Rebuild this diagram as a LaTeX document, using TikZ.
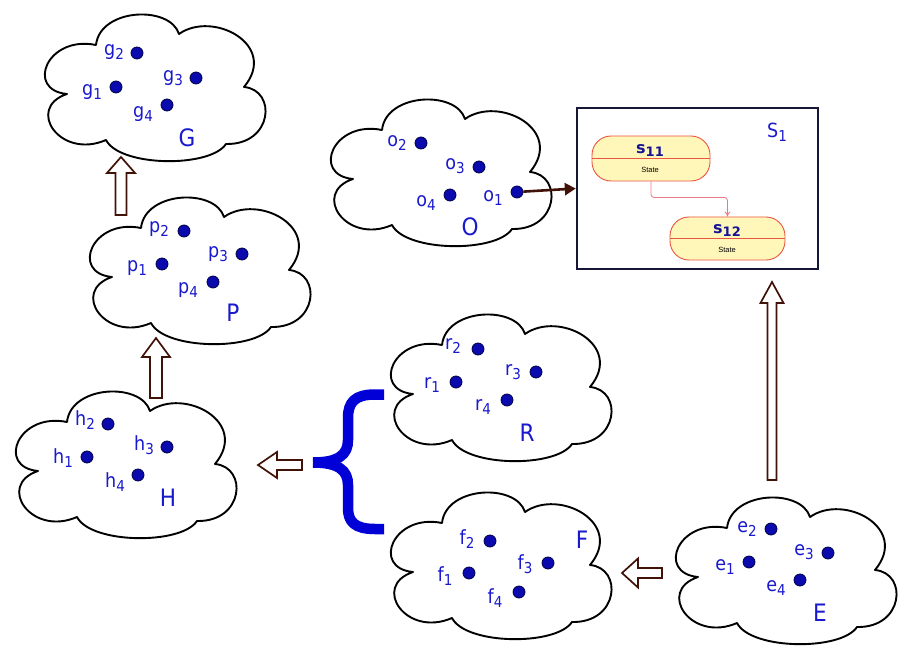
\documentclass[tikz,border=0pt]{standalone}
\usepackage{fontspec}
\setmainfont{DejaVu Sans Condensed}
\newfontfamily\vera{DejaVu Sans}
\newfontfamily\smallsans{Liberation Sans}
\usetikzlibrary{arrows.meta}
\definecolor{txtblue}{RGB}{25,25,205}
\definecolor{dotblue}{RGB}{10,10,175}
\definecolor{dotedge}{RGB}{0,0,70}
\definecolor{arrbrown}{RGB}{65,18,8}
\definecolor{boxnavy}{RGB}{22,22,55}
\definecolor{stfill}{RGB}{255,247,185}
\definecolor{stdraw}{RGB}{235,85,65}
\definecolor{transcol}{RGB}{235,120,135}
\definecolor{bracecol}{RGB}{0,0,215}
\definecolor{statename}{RGB}{20,20,150}
\newcommand{\lab}[2]{\fontsize{19.5}{21}\selectfont #1\raisebox{-4pt}{\fontsize{15}{16}\selectfont #2}}
\newcommand{\blkarrow}[6]{%
  \draw[blockarr, shift={(#1)}, rotate=#2] (0,-#4) -- ({#3-#6},-#4) -- ({#3-#6},-#5) -- (#3,0)
    -- ({#3-#6},#5) -- ({#3-#6},#4) -- (0,#4) -- cycle;}
\tikzset{
  cloudline/.style={draw=black, fill=white, line width=1.9pt, line join=round},
  cloudpic/.pic={\path[cloudline] (-88,4) .. controls (-130,0) and (-108,-55) .. (-59,-45)
     .. controls (-55,-82) and (15,-85) .. (24,-56)
     .. controls (58,-80) and (124,-45) .. (89,-3)
     .. controls (122,0) and (118,55) .. (71,54)
     .. controls (55,78) and (-35,77) .. (-49,50)
     .. controls (-95,70) and (-130,18) .. (-88,4) -- cycle;},
  dot/.style={circle, fill=dotblue, draw=dotedge, line width=0.8pt, minimum size=12pt, inner sep=0pt},
  lbl/.style={text=txtblue, inner sep=0pt},
  big/.style={text=txtblue, inner sep=0pt, font=\fontsize{24}{26}\selectfont},
  blockarr/.style={draw=arrbrown, fill=white, line width=1.7pt, line join=miter},
  statebox/.style={draw=stdraw, fill=stfill, line width=0.9pt, rounded corners=19pt, inner sep=0pt},
  stname/.style={text=statename, inner sep=0pt, font=\vera\bfseries\fontsize{16}{17}\selectfont},
  sttext/.style={inner sep=0pt, font=\smallsans\fontsize{7.5}{8}\selectfont},
  bracepath/.style={draw=bracecol, line width=10.5pt, line cap=butt, line join=round}
}
\begin{document}
\begin{tikzpicture}[x=1pt, y=-1pt]
\useasboundingbox (0,0) rectangle (912,652);

% clouds
\pic (cG) at (155,90) {cloudpic};
\pic (cP) at (200,273) {cloudpic};
\pic (cH) at (126,467) {cloudpic};
\pic (cO) at (441,175) {cloudpic};
\pic (cR) at (501,390) {cloudpic};
\pic (cF) at (501,568) {cloudpic};
\pic (cE) at (786,573) {cloudpic};

% G
\node[dot] (g1) at (116,87) {};
\node[dot] (g2) at (137,53) {};
\node[dot] (g3) at (196,78) {};
\node[dot] (g4) at (167,105) {};
\node[lbl] (g1l) at (92,92) {\lab{g}{1}};
\node[lbl] (g2l) at (114,52) {\lab{g}{2}};
\node[lbl] (g3l) at (173,78) {\lab{g}{3}};
\node[lbl] (g4l) at (143,114) {\lab{g}{4}};
\node[big] (Gl) at (187,138) {G};

% P
\node[dot] (p1) at (162,264) {};
\node[dot] (p2) at (184,231) {};
\node[dot] (p3) at (242,254) {};
\node[dot] (p4) at (213,282) {};
\node[lbl] (p1l) at (137,268) {\lab{p}{1}};
\node[lbl] (p2l) at (159,229) {\lab{p}{2}};
\node[lbl] (p3l) at (218,254) {\lab{p}{3}};
\node[lbl] (p4l) at (188,290) {\lab{p}{4}};
\node[big] (Pl) at (233,313) {P};

% H
\node[dot] (h1) at (87,457) {};
\node[dot] (h2) at (108,424) {};
\node[dot] (h3) at (167,447) {};
\node[dot] (h4) at (138,475) {};
\node[lbl] (h1l) at (63,458) {\lab{h}{1}};
\node[lbl] (h2l) at (85,420) {\lab{h}{2}};
\node[lbl] (h3l) at (144,445) {\lab{h}{3}};
\node[lbl] (h4l) at (115,482) {\lab{h}{4}};
\node[big] (Hl) at (168,498) {H};

% O
\node[dot] (o1) at (517,192) {};
\node[dot] (o2) at (421,143) {};
\node[dot] (o3) at (479,167) {};
\node[dot] (o4) at (450,195) {};
\node[lbl] (o1l) at (493,198) {\lab{o}{1}};
\node[lbl] (o2l) at (397,143) {\lab{o}{2}};
\node[lbl] (o3l) at (455,166) {\lab{o}{3}};
\node[lbl] (o4l) at (426,203) {\lab{o}{4}};
\node[big] (Ol) at (470,227) {O};

% R
\node[dot] (r1) at (456,382) {};
\node[dot] (r2) at (478,349) {};
\node[dot] (r3) at (536,372) {};
\node[dot] (r4) at (507,400) {};
\node[lbl] (r1l) at (432,385) {\lab{r}{1}};
\node[lbl] (r2l) at (453,346) {\lab{r}{2}};
\node[lbl] (r3l) at (513,372) {\lab{r}{3}};
\node[lbl] (r4l) at (483,407) {\lab{r}{4}};
\node[big] (Rl) at (527,433) {R};

% F
\node[dot] (f1) at (469,573) {};
\node[dot] (f2) at (490,541) {};
\node[dot] (f3) at (548,563) {};
\node[dot] (f4) at (519,592) {};
\node[lbl] (f1l) at (445,576) {\lab{f}{1}};
\node[lbl] (f2l) at (467,539) {\lab{f}{2}};
\node[lbl] (f3l) at (525,564) {\lab{f}{3}};
\node[lbl] (f4l) at (495,598) {\lab{f}{4}};
\node[big] (Fl) at (582,540) {F};

% E
\node[dot] (e1) at (749,562) {};
\node[dot] (e2) at (771,529) {};
\node[dot] (e3) at (828,553) {};
\node[dot] (e4) at (800,580) {};
\node[lbl] (e1l) at (725,567) {\lab{e}{1}};
\node[lbl] (e2l) at (747,529) {\lab{e}{2}};
\node[lbl] (e3l) at (804,552) {\lab{e}{3}};
\node[lbl] (e4l) at (776,588) {\lab{e}{4}};
\node[big] (El) at (820,613) {E};

% S1 box
\node[draw=boxnavy, line width=2.4pt, fill=white, minimum width=241pt, minimum height=161pt, inner sep=0pt] (S1) at (697.5,188.5) {};
\node[lbl] (S1l) at (777,132) {\lab{S}{1}};

% states
\node[statebox, minimum width=118pt, minimum height=45pt] (s11) at (651,158.5) {};
\draw[stdraw, line width=0.8pt] (s11.west) -- (s11.east);
\node[stname] (s11n) at (650,151) {s\raisebox{-3pt}{\fontsize{13}{14}\selectfont 11}};
\node[sttext] (s11t) at (650,170) {State};

\node[statebox, minimum width=115pt, minimum height=43pt] (s12) at (727.5,238.5) {};
\draw[stdraw, line width=0.8pt] (s12.west) -- (s12.east);
\node[stname] (s12n) at (727,231) {s\raisebox{-3pt}{\fontsize{13}{14}\selectfont 12}};
\node[sttext] (s12t) at (727,250) {State};

\draw[transcol, line width=0.8pt, rounded corners=3pt, -{To[length=5pt,width=6pt]}] (s11.south) -- ++(0,16) -| (s12.north);

% O -> S1
\draw[arrbrown, line width=2.6pt, -{Triangle[length=11pt,width=12pt]}] (o1) -- (S1.west);

% block arrows
\blkarrow{121,215}{90}{58}{5.5}{14}{16}
\blkarrow{156,398}{90}{60}{6}{14}{19}
\blkarrow{302,465}{180}{44}{5}{13}{19}
\blkarrow{772,480}{90}{198}{4.5}{11.5}{21}
\blkarrow{662,573}{180}{40}{5}{14.5}{16}

% brace
\draw[bracepath] (384,394.5) -- (375,394.5) .. controls (355,394.5) and (348,402) .. (348,418)
  -- (348,440) .. controls (348,455) and (338,462.5) .. (313,462.5);
\draw[bracepath] (313,462.5) .. controls (338,462.5) and (348,470) .. (348,485)
  -- (348,508) .. controls (348,522) and (355,529) .. (375,529) -- (384,529);
\end{tikzpicture}
\end{document}
